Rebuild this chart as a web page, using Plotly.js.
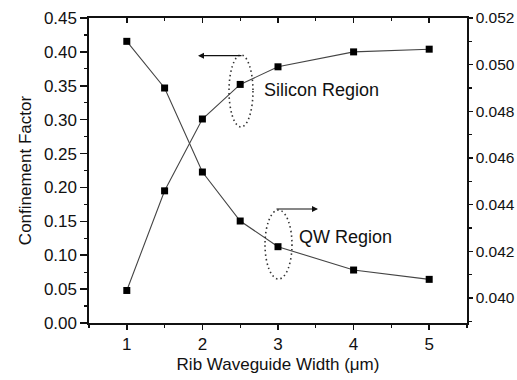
<!DOCTYPE html>
<html>
<head>
<meta charset="utf-8">
<script src="https://cdn.plot.ly/plotly-3.0.1.min.js"></script>
<style>html,body{margin:0;padding:0;background:#fff;}#chart{width:517px;height:380px;}</style>
</head>
<body>
<div id="chart"></div>
<script>
// Data
const widths = [1, 1.5, 2, 2.5, 3, 4, 5];            // Rib waveguide width (µm)
const siliconFactor = [0.048, 0.195, 0.301, 0.352, 0.378, 0.400, 0.404]; // left axis
const qwFactor = [0.0510, 0.0490, 0.0454, 0.0433, 0.0422, 0.0412, 0.0408]; // right axis
const xTitle = 'Rib Waveguide Width (\u03bcm)';
const yTitle = 'Confinement Factor';
const siliconLabel = 'Silicon Region';
const qwLabel = 'QW Region';

const FONT = 'Liberation Sans, Arial, sans-serif';
const INK = '#111';

const lineStyle = {color: '#444', width: 1.1};
const markerStyle = {symbol: 'square', size: 7, color: '#000'};

const traces = [
  {x: widths, y: siliconFactor, xaxis: 'x', yaxis: 'y', mode: 'lines+markers',
   line: lineStyle, marker: markerStyle, showlegend: false, hoverinfo: 'skip'},
  {x: widths, y: qwFactor, xaxis: 'x', yaxis: 'y2', mode: 'lines+markers',
   line: lineStyle, marker: markerStyle, showlegend: false, hoverinfo: 'skip'},
  // carrier for the top (inward-tick) axis
  {x: widths, y: siliconFactor, xaxis: 'x2', yaxis: 'y', mode: 'none',
   showlegend: false, hoverinfo: 'skip'}
];

const tickFont = {family: FONT, size: 17, color: INK};

const layout = {
  width: 517, height: 380,
  margin: {l: 89, r: 50, t: 18, b: 57, pad: 0},
  paper_bgcolor: '#fff', plot_bgcolor: '#fff',
  font: {family: FONT, color: INK},
  showlegend: false,
  xaxis: {
    range: [0.5, 5.5], tickmode: 'linear', tick0: 0, dtick: 1,
    ticks: 'outside', ticklen: 5, tickwidth: 1.5, tickcolor: INK,
    minor: {ticks: 'outside', ticklen: 3, dtick: 0.5, tickwidth: 1.3, tickcolor: INK},
    showline: true, linecolor: INK, linewidth: 1.6, mirror: true,
    showgrid: false, zeroline: false,
    tickfont: tickFont,
    title: {text: xTitle, font: {family: FONT, size: 17, color: INK}, standoff: 5}
  },
  xaxis2: {
    overlaying: 'x', side: 'top', range: [0.5, 5.5], tickmode: 'linear', tick0: 0, dtick: 1,
    ticks: 'inside', ticklen: 5, tickwidth: 1.5, tickcolor: INK,
    minor: {ticks: 'inside', ticklen: 3, dtick: 0.5, tickwidth: 1.3, tickcolor: INK},
    showticklabels: false, showline: false, showgrid: false, zeroline: false
  },
  yaxis: {
    range: [0, 0.45], tickmode: 'linear', tick0: 0, dtick: 0.05, tickformat: '.2f',
    ticks: 'outside', ticklen: 7, tickwidth: 1.5, tickcolor: INK,
    minor: {ticks: 'outside', ticklen: 3, dtick: 0.025, tickwidth: 1.3, tickcolor: INK},
    showline: true, linecolor: INK, linewidth: 1.6,
    showgrid: false, zeroline: false,
    tickfont: tickFont,
    title: {text: yTitle, font: {family: FONT, size: 17, color: INK}, standoff: 8}
  },
  yaxis2: {
    overlaying: 'y', side: 'right', range: [0.03893, 0.052],
    tickmode: 'linear', tick0: 0.040, dtick: 0.002, tickformat: '.3f',
    ticks: 'outside', ticklen: 4, tickwidth: 1.5, tickcolor: INK,
    minor: {ticks: 'outside', ticklen: 3, dtick: 0.001, tickwidth: 1.3, tickcolor: INK},
    showline: true, linecolor: INK, linewidth: 1.6,
    showgrid: false, zeroline: false,
    tickfont: {family: FONT, size: 15.5, color: INK}
  },
  shapes: [
    {type: 'circle', xref: 'x', yref: 'y', x0: 2.352, x1: 2.669, y0: 0.2892, y1: 0.3954,
     line: {color: '#333', width: 1.6, dash: '1.5px,3px'}},
    {type: 'circle', xref: 'x', yref: 'y', x0: 2.828, x1: 3.185, y0: 0.0649, y1: 0.1667,
     line: {color: '#333', width: 1.6, dash: '1.5px,3px'}}
  ],
  annotations: [
    {x: 1.942, y: 0.3944, ax: 2.537, ay: 0.3944, xref: 'x', yref: 'y', axref: 'x', ayref: 'y',
     text: '', showarrow: true, arrowhead: 2, arrowsize: 1, arrowwidth: 1.2, arrowcolor: '#111'},
    {x: 3.529, y: 0.1682, ax: 2.960, ay: 0.1682, xref: 'x', yref: 'y', axref: 'x', ayref: 'y',
     text: '', showarrow: true, arrowhead: 2, arrowsize: 1, arrowwidth: 1.2, arrowcolor: '#111'},
    {x: 2.788, y: 0.3438, xref: 'x', yref: 'y', text: siliconLabel, showarrow: false,
     xanchor: 'left', yanchor: 'middle', font: {family: FONT, size: 18, color: INK}},
    {x: 3.251, y: 0.1269, xref: 'x', yref: 'y', text: qwLabel, showarrow: false,
     xanchor: 'left', yanchor: 'middle', font: {family: FONT, size: 18, color: INK}}
  ]
};

Plotly.newPlot('chart', traces, layout, {staticPlot: true, displayModeBar: false});
</script>
</body>
</html>
